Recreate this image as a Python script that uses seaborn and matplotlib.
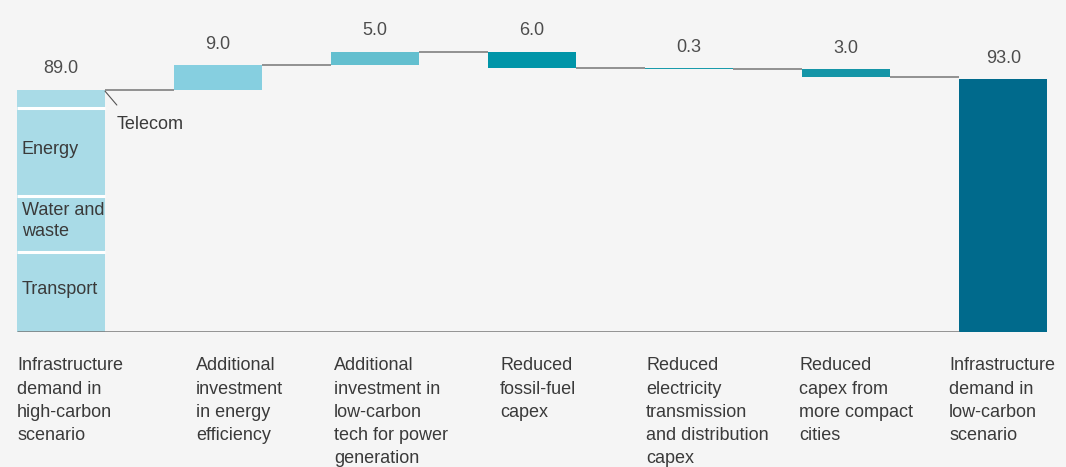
import numpy as np
import pandas as pd
import matplotlib
matplotlib.use("Agg")
import matplotlib.pyplot as plt
import seaborn as sns

# Data
steps = [
    "Infrastructure\ndemand in\nhigh-carbon\nscenario",
    "Additional\ninvestment\nin energy\nefficiency",
    "Additional\ninvestment in\nlow-carbon\ntech for power\ngeneration",
    "Reduced\nfossil-fuel\ncapex",
    "Reduced\nelectricity\ntransmission\nand distribution\ncapex",
    "Reduced\ncapex from\nmore compact\ncities",
    "Infrastructure\ndemand in\nlow-carbon\nscenario",
]
values = [89.0, 9.0, 5.0, -6.0, -0.3, -3.0, 93.0]
segments = ["Transport", "Water and\nwaste", "Energy", "Telecom"]
segment_values = [29.4, 20.6, 32.4, 6.6]

colors = ["#a9dbe7", "#86cfe0", "#63bfcf", "#0095a8", "#1a9bab", "#1495a7", "#006a8c"]
label_nudge_px = [0, 22, 3, 12, 1, -3, -10]
BG = "#f5f5f5"
LINE = "#767676"
TXT = "#3a3a3a"
W = 0.56
FS = 13

# Waterfall geometry
levels = np.cumsum(values[:-1])
bottoms = [0.0]
for i in range(1, len(values) - 1):
    bottoms.append(min(levels[i - 1], levels[i]))
bottoms.append(0.0)
df = pd.DataFrame({"step": steps, "height": np.abs(values), "bottom": bottoms})

sns.set_theme(style="white")
plt.rcParams["font.family"] = ["Liberation Sans", "DejaVu Sans"]

fig = plt.figure(figsize=(10.66, 4.67), dpi=100, facecolor=BG)
ax = fig.add_axes([0, 0.289, 1, 0.711])
ax.set_facecolor(BG)

sns.barplot(data=df, x="step", y="height", order=steps, width=W, color=colors[0],
            bottom=df["bottom"].to_numpy(), ax=ax, linewidth=0)
for patch, c in zip(ax.patches, colors):
    patch.set_facecolor(c)
    patch.set_edgecolor(c)

# white dividers for the stacked first bar
cuts = np.cumsum(segment_values)[:-1]
ax.hlines(cuts, -W / 2, W / 2, color="white", lw=2.2, zorder=3)

# connectors and baseline
for i in range(len(values) - 1):
    ax.hlines(levels[i], i + W / 2, i + 1 - W / 2, color=LINE, lw=1.1, zorder=3)
ax.hlines(0, -W / 2, len(values) - 1 - W / 2, color=LINE, lw=1.8, zorder=3)

# value labels
for i, v in enumerate(values):
    top = bottoms[i] + abs(v)
    ax.annotate(f"{abs(v):.1f}", xy=(i, top), xytext=(0, 15), textcoords="offset points",
                ha="center", va="center", fontsize=FS, color="#4d4d4d")

# category labels
for i, s in enumerate(steps):
    ax.annotate(s, xy=(i - W / 2, 0), xytext=(label_nudge_px[i] * 0.72, -18.2),
                textcoords="offset points", ha="left", va="top", fontsize=FS,
                color=TXT, linespacing=1.48, annotation_clip=False)

# segment labels inside first bar
seg_bottoms = np.concatenate([[0], np.cumsum(segment_values)[:-1]])
for name, b, h in zip(segments[:-1], seg_bottoms[:-1], segment_values[:-1]):
    ax.annotate(name, xy=(-W / 2, b + h / 2), xytext=(3.2, 2), textcoords="offset points",
                ha="left", va="center", fontsize=FS, color=TXT, linespacing=1.33)

# Telecom callout
ax.annotate("", xy=(W / 2, values[0] - 0.5), xytext=(8.5, -10), textcoords="offset points",
            arrowprops=dict(arrowstyle="-", color="#555555", lw=0.8, shrinkA=0, shrinkB=0))
ax.annotate(segments[-1], xy=(W / 2, values[0]), xytext=(8.6, -25), textcoords="offset points",
            ha="left", va="center", fontsize=FS, color=TXT)

ax.set_xlim(-0.389, 6.40)
ax.set_ylim(0, 122)
ax.axis("off")

fig.savefig("out.png", dpi=100, facecolor=BG)
